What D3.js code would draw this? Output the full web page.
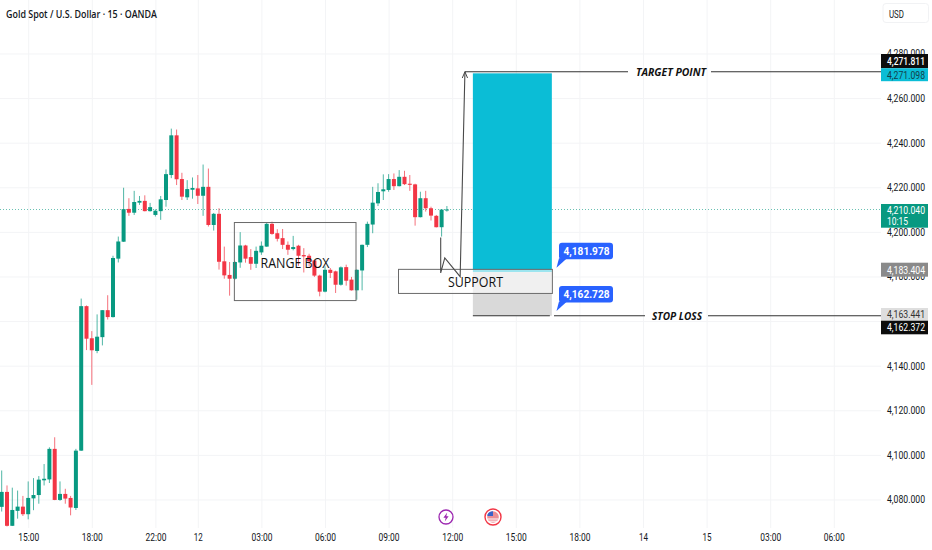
<!DOCTYPE html>
<html><head><meta charset="utf-8">
<script src="https://cdn.jsdelivr.net/npm/d3@7"></script>
<style>
html,body{margin:0;padding:0;background:#fff;overflow:hidden}
svg{display:block;font-family:Roboto,"Open Sans",sans-serif}
</style></head><body><div id="chart"></div>
<script>
const title = "Gold Spot / U.S. Dollar · 15 · OANDA";
const opens = [4076.7,4083.4,4068.2,4074.9,4076.8,4073.4,4080.5,4082.0,4088.6,4089.0,4102.7,4079.8,4082.5,4080.7,4076.2,4101.9,4166.7,4152.3,4146.6,4152.8,4164.9,4161.8,4188.0,4195.6,4210.3,4208.6,4213.1,4213.9,4209.3,4207.6,4209.3,4214.3,4225.5,4243.3,4223.7,4215.5,4218.9,4219.5,4216.2,4220.2,4203.1,4208.1,4186.8,4180.7,4179.0,4186.3,4193.9,4188.7,4185.7,4190.8,4193.4,4203.6,4199.4,4197.2,4194.2,4192.3,4193.8,4189.6,4189.3,4187.2,4180.4,4173.2,4183.0,4182.3,4176.3,4184.2,4178.6,4173.8,4182.7,4194.2,4203.3,4212.8,4218.2,4218.8,4223.7,4220.5,4224.7,4221.6,4221.3,4206.6,4215.1,4210.6,4207.2,4202.1,4209.8];
const highs = [4093.0,4086.3,4085.3,4084.0,4081.6,4088.1,4089.6,4090.5,4095.9,4103.4,4107.9,4088.1,4084.8,4081.6,4102.7,4170.1,4167.0,4155.5,4163.0,4164.9,4171.6,4189.3,4197.9,4219.8,4215.1,4218.4,4216.1,4216.4,4213.0,4210.1,4216.1,4228.0,4246.3,4245.9,4226.5,4223.2,4224.4,4225.5,4230.2,4228.4,4208.5,4210.6,4193.4,4186.5,4186.8,4199.9,4194.2,4192.3,4193.4,4195.7,4204.0,4204.6,4201.2,4201.3,4195.7,4198.2,4194.2,4192.7,4190.2,4187.5,4180.8,4184.5,4183.8,4182.6,4184.5,4185.3,4179.8,4183.2,4194.3,4204.6,4220.2,4221.8,4225.8,4225.9,4226.2,4227.7,4227.4,4225.5,4221.6,4218.0,4218.4,4211.3,4207.6,4210.1,4211.6];
const lows = [4074.6,4067.9,4068.1,4071.4,4072.6,4071.1,4075.2,4078.1,4086.3,4087.4,4079.7,4079.4,4078.1,4072.9,4075.3,4101.8,4147.0,4131.4,4145.6,4149.1,4160.7,4161.6,4186.3,4195.5,4207.2,4207.6,4212.1,4209.2,4209.1,4206.9,4205.4,4211.3,4224.1,4221.0,4214.3,4214.3,4214.9,4212.5,4207.2,4202.4,4200.6,4183.1,4179.0,4171.4,4178.6,4183.9,4186.2,4183.0,4183.8,4189.7,4193.3,4198.7,4195.7,4192.3,4189.7,4191.7,4184.8,4181.8,4184.5,4179.8,4171.1,4172.9,4179.3,4172.6,4175.9,4175.9,4173.7,4169.6,4173.8,4193.2,4199.4,4211.6,4214.3,4218.0,4218.8,4220.4,4221.0,4218.4,4202.8,4206.5,4209.1,4205.1,4202.0,4197.9,4209.1];
const closes = [4083.4,4068.2,4075.3,4076.8,4073.4,4080.7,4082.0,4088.9,4089.3,4102.7,4079.8,4082.5,4080.4,4076.4,4101.9,4166.7,4152.1,4146.9,4153.0,4164.9,4161.8,4188.3,4195.7,4210.2,4208.6,4213.4,4213.9,4209.3,4211.1,4209.5,4214.6,4225.9,4243.3,4223.6,4215.8,4219.2,4219.7,4216.2,4220.2,4203.1,4208.1,4186.6,4180.5,4179.0,4186.5,4193.9,4188.0,4185.7,4191.5,4193.8,4203.6,4199.1,4196.9,4194.2,4192.0,4193.2,4189.3,4189.0,4186.8,4180.4,4173.2,4183.0,4181.6,4176.3,4184.1,4178.1,4173.8,4183.0,4194.2,4203.6,4213.1,4217.9,4219.1,4223.7,4220.5,4224.7,4221.4,4221.1,4206.6,4215.1,4210.6,4207.3,4202.1,4210.0,4210.04];

const gridPriceTicks = [4080,4100,4120,4140,4160,4180,4200,4220,4240,4260,4280];
const labelPriceTicks = [4080,4100,4120,4140,4180,4200,4220,4240,4260,4280];
const timeTickIndex = [5,17,29,37,49,61,73,85,97,109,121,133,145,157];
const timeTickLabels = ["15:00","18:00","22:00","12","03:00","06:00","09:00","12:00","15:00","18:00","14","15","03:00","06:00"];

const lastPrice = 4210.04, lastCountdown = "10:15";
const targetPrice = 4271.098, entryPrice = 4181.978, stopPrice = 4162.728;
const targetLine = 4271.811, stopLine = 4163.441, stopLine2 = 4162.372, supportMark = 4183.404;

const W = 932, H = 550;
const paneW = 881, paneH = 528;
const x = d3.scaleLinear().domain([0,157]).range([1.7,833.8]);
const pxPerUnit = 2.23;
const y = d3.scaleLinear().domain([4210.04,4280]).range([209.5,209.5-69.96*pxPerUnit]);
const UP="#089981", DOWN="#f23645", INK="#131722", LINE="#4a4a4a";
const PRICE_W = 38;

const svg = d3.select("#chart").append("svg").attr("width",W).attr("height",H);
svg.append("rect").attr("width",W).attr("height",H).attr("fill","#fff");
svg.append("clipPath").attr("id","pane").append("rect").attr("width",paneW).attr("height",paneH);

// grid
const gridX = svg.append("g").attr("transform",`translate(0,${paneH})`)
  .call(d3.axisBottom(x).tickValues(timeTickIndex).tickSize(-paneH).tickFormat(""));
const gridY = svg.append("g").attr("transform",`translate(${paneW},0)`)
  .call(d3.axisLeft(y).tickValues(gridPriceTicks).tickSize(paneW).tickFormat(""));
[gridX,gridY].forEach(g=>{g.select(".domain").remove();g.selectAll("line").attr("stroke","#f3f4f6");});

// axes labels
const axX = svg.append("g").attr("transform",`translate(0,${paneH+5.5})`)
  .call(d3.axisBottom(x).tickValues(timeTickIndex).tickSize(0).tickPadding(0).tickFormat((d,i)=>timeTickLabels[i]));
axX.select(".domain").remove();
axX.selectAll("text").attr("fill",INK).attr("font-size",10.5).attr("font-family","Roboto")
  .attr("lengthAdjust","spacingAndGlyphs").attr("textLength",(d,i)=>timeTickLabels[i].length>2?21:9);
const axY = svg.append("g").attr("transform",`translate(925,0)`)
  .call(d3.axisLeft(y).tickValues(labelPriceTicks).tickSize(0).tickPadding(0).tickFormat(d3.format(",.3f")));
axY.select(".domain").remove();
axY.selectAll("text").attr("fill",INK).attr("font-size",10.5).attr("font-family","Roboto")
  .attr("lengthAdjust","spacingAndGlyphs").attr("textLength",PRICE_W);

// last price line
const pane = svg.append("g").attr("clip-path","url(#pane)");
pane.append("line").attr("x1",0).attr("x2",paneW).attr("y1",y(lastPrice)).attr("y2",y(lastPrice))
  .attr("stroke",UP).attr("stroke-dasharray","1 2").attr("opacity",.6);

// candles
const candles = pane.append("g").selectAll("g").data(opens.map((o,i)=>({i,o,h:highs[i],l:lows[i],c:closes[i]}))).join("g");
candles.append("line").attr("x1",d=>x(d.i)).attr("x2",d=>x(d.i)).attr("y1",d=>y(d.h)).attr("y2",d=>y(d.l))
  .attr("stroke",d=>d.c>=d.o?UP:DOWN).attr("stroke-width",1).attr("opacity",.7);
candles.append("rect").attr("x",d=>x(d.i)-2).attr("width",4)
  .attr("y",d=>y(Math.max(d.o,d.c))).attr("height",d=>Math.max(1,y(Math.min(d.o,d.c))-y(Math.max(d.o,d.c))))
  .attr("fill",d=>d.c>=d.o?UP:DOWN);

// range box
const rangeBox = {i0:43.9,i1:66.85,top:4204.2,bottom:4169.2};
pane.append("rect").attr("x",x(rangeBox.i0)).attr("y",y(rangeBox.top))
  .attr("width",x(rangeBox.i1)-x(rangeBox.i0)).attr("height",y(rangeBox.bottom)-y(rangeBox.top))
  .attr("fill","none").attr("stroke","#6a6a6a").attr("stroke-width",1);
svg.append("text").attr("x",295).attr("y",y(4186.5)).attr("text-anchor","middle").attr("dominant-baseline","central")
  .attr("font-family","Open Sans").attr("font-weight",500).attr("font-size",15).attr("fill","#111").attr("textLength",69).attr("lengthAdjust","spacingAndGlyphs").text("RANGE BOX");

// long position
const posI0 = 88.9, posI1 = 103.8;
pane.append("rect").attr("x",x(posI0)).attr("width",x(posI1)-x(posI0)).attr("y",y(targetPrice)).attr("height",y(entryPrice)-y(targetPrice)).attr("fill","#0bbdd6");
pane.append("rect").attr("x",x(posI0)).attr("width",x(posI1)-x(posI0)).attr("y",y(entryPrice)).attr("height",y(stopLine2)-y(entryPrice)).attr("fill","#d9d9d9");

// support box
const supportBox = {i0:74.87,i1:103.9,top:4183.2,bottom:4172.4};
pane.append("rect").attr("x",x(supportBox.i0)).attr("y",y(supportBox.top))
  .attr("width",x(supportBox.i1)-x(supportBox.i0)).attr("height",y(supportBox.bottom)-y(supportBox.top))
  .attr("fill","#ffffff").attr("fill-opacity",.6).attr("stroke","#6a6a6a");
svg.append("text").attr("x",475.5).attr("y",y(4178)).attr("text-anchor","middle").attr("dominant-baseline","central")
  .attr("font-family","Open Sans").attr("font-weight",500).attr("font-size",15).attr("fill","#111").attr("textLength",55).attr("lengthAdjust","spacingAndGlyphs").text("SUPPORT");

// arrow path (chart coordinates)
const arrowPts = [[82.83,4197.5],[82.83,4181.6],[83.6,4188.3],[86.5,4179.9],[87.4,4271.8]];
const ln = d3.line().x(d=>x(d[0])).y(d=>y(d[1]));
pane.append("path").attr("d",ln(arrowPts)).attr("fill","none").attr("stroke",LINE).attr("stroke-width",1.1);
pane.append("path").attr("d",ln([[86.9,4269],[87.4,4271.8],[87.9,4269]])).attr("fill","none").attr("stroke",LINE);

// target / stop lines
function hline(xa,xb,p){pane.append("line").attr("x1",xa).attr("x2",xb).attr("y1",y(p)).attr("y2",y(p)).attr("stroke","#333").attr("stroke-width",1.1);}
hline(x(87.4),628,targetLine); hline(711,paneW,targetLine);
hline(x(posI0),x(posI1)-2,stopLine2); hline(554,645,stopLine2); hline(708,paneW,stopLine2);
function tag(cx,p,t,w){svg.append("text").attr("x",cx).attr("y",y(p)).attr("text-anchor","middle").attr("dominant-baseline","central")
 .attr("font-family","Open Sans").attr("font-style","italic").attr("font-weight",700).attr("font-size",11).attr("fill","#111")
 .attr("textLength",w).attr("lengthAdjust","spacingAndGlyphs").text(t);}
tag(671,targetLine,"TARGET POINT",70); tag(677,stopLine2,"STOP LOSS",50);

// blue callouts
function callout(yTop,label){
  const bx=559,bw=54,bh=16.5;
  const g=svg.append("g");
  g.append("path").attr("d",`M${bx} ${yTop+bh-1}L${bx-2.5} ${yTop+bh+8.5}L${bx+8} ${yTop+bh-1}Z`).attr("fill","#2962ff");
  g.append("rect").attr("x",bx).attr("y",yTop).attr("width",bw).attr("height",bh).attr("rx",3).attr("fill","#2962ff");
  g.append("text").attr("x",bx+bw/2+.5).attr("y",yTop+bh/2+.5).attr("text-anchor","middle").attr("dominant-baseline","central")
    .attr("font-family","Roboto").attr("font-weight",700).attr("font-size",11).attr("fill","#fff")
    .attr("textLength",46).attr("lengthAdjust","spacingAndGlyphs").text(label);
}
callout(242.7,d3.format(",.3f")(entryPrice));
callout(286,d3.format(",.3f")(stopPrice));

// price labels
function plabel(yTop,h,fill,color,txt,bold){
  svg.append("rect").attr("x",881).attr("y",yTop).attr("width",47).attr("height",h).attr("fill",fill);
  svg.append("text").attr("x",925).attr("y",yTop+h/2+.3).attr("text-anchor","end").attr("dominant-baseline","central")
   .attr("font-family","Roboto").attr("font-size",10.5).attr("font-weight",bold?500:400).attr("fill",color)
   .attr("textLength",PRICE_W).attr("lengthAdjust","spacingAndGlyphs").text(txt);
}
const f3=d3.format(",.3f");
plabel(54,14.2,"#0c0c0c","#fff",f3(targetLine),true);
plabel(68.2,13,"#0bbdd6","#13404a",f3(targetPrice));
plabel(262.7,14,"#8a8a8a","#fff",f3(supportMark));
plabel(308,12.7,"#dedede","#333",f3(stopLine));
plabel(320.7,13.6,"#0c0c0c","#fff",f3(stopLine2));
svg.append("rect").attr("x",881).attr("y",204).attr("width",47).attr("height",23.7).attr("fill",UP);
svg.append("text").attr("x",925).attr("y",210).attr("text-anchor","end").attr("dominant-baseline","central").attr("font-family","Roboto").attr("font-size",10.5).attr("fill","#fff")
  .attr("textLength",PRICE_W).attr("lengthAdjust","spacingAndGlyphs").text(f3(lastPrice));
svg.append("text").attr("x",887).attr("y",221).attr("dominant-baseline","central").attr("font-family","Roboto").attr("font-size",10.5).attr("fill","#fff")
  .attr("textLength",21).attr("lengthAdjust","spacingAndGlyphs").text(lastCountdown);

// USD
svg.append("rect").attr("x",883).attr("y",3.5).attr("width",45.5).attr("height",19).attr("rx",3).attr("fill","#fff").attr("stroke","#f1f2f4");
svg.append("text").attr("x",889).attr("y",14).attr("dominant-baseline","central").attr("font-family","Roboto").attr("font-size",10).attr("fill",INK)
  .attr("textLength",15).attr("lengthAdjust","spacingAndGlyphs").text("USD");

// title
svg.append("text").attr("x",6).attr("y",13.5).attr("dominant-baseline","central").attr("font-family","Open Sans").attr("font-weight",600).attr("font-size",11).attr("fill",INK)
 .attr("textLength",151).attr("lengthAdjust","spacingAndGlyphs").text(title);

// event icons
const ev1=svg.append("g").attr("transform","translate(446,517)");
ev1.append("circle").attr("r",7).attr("fill","#fff").attr("stroke","#9c27b0").attr("stroke-width",1.3);
ev1.append("path").attr("d","M1.2 -4.6L-2.6 0.8H-0.3L-1.2 4.6L2.6 -0.8H0.3Z").attr("fill","#9c27b0");
const ev2=svg.append("g").attr("transform","translate(493,517)");
ev2.append("circle").attr("r",8).attr("fill","#fff").attr("stroke","#f23645").attr("stroke-width",1.4);
ev2.append("circle").attr("r",5.8).attr("fill","#ec8f96");
ev2.append("path").attr("d","M-5.5 -2.5A6 6 0 0 1 0 -5.8V-1H-5.6Z").attr("fill","#3a62c9");
ev2.append("path").attr("d","M-5.6 2H5.6M-4 4.2H4").attr("stroke","#fff").attr("stroke-width",1);
</script></body></html>
